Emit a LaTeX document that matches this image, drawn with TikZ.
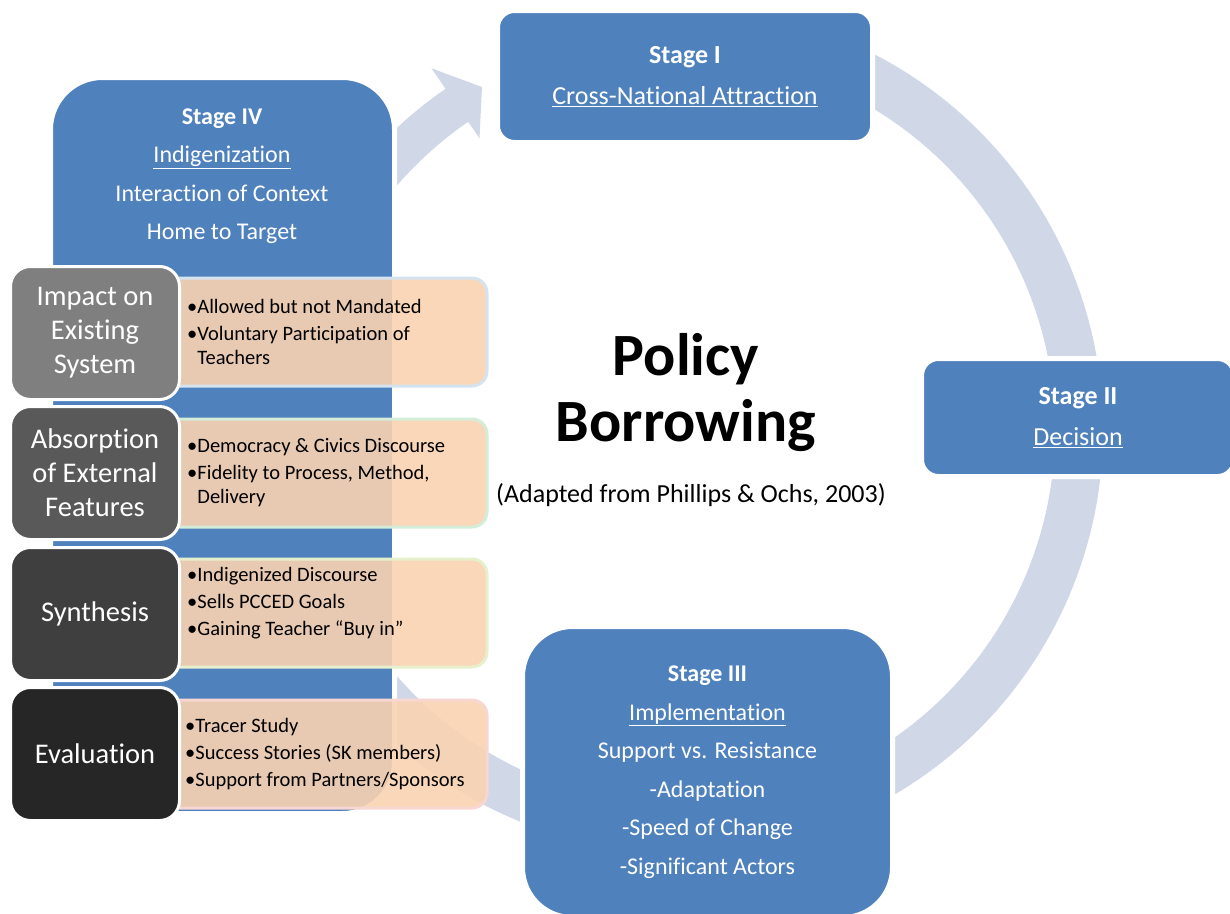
\documentclass[tikz,border=0pt]{standalone}
\usepackage{fontspec}
\setmainfont{Carlito}[Ligatures=CommonOff]

\definecolor{stageblue}{HTML}{4F81BD}
\definecolor{ringblue}{HTML}{D0D8E8}
\definecolor{peach}{HTML}{F9D3B1}
\definecolor{greyA}{HTML}{7F7F7F}
\definecolor{greyB}{HTML}{595959}
\definecolor{greyC}{HTML}{3F3F3F}
\definecolor{greyD}{HTML}{262626}
\definecolor{rimA}{HTML}{D5E3F0}
\definecolor{rimB}{HTML}{D3EDD8}
\definecolor{rimC}{HTML}{E6F0CC}
\definecolor{rimD}{HTML}{F8D7D3}

\newcommand{\stagetext}{\fontsize{24}{38.5}\selectfont}
\newcommand{\bigstagetext}{\fontsize{26}{41}\selectfont}
\newcommand{\sidetext}{\fontsize{28.5}{34}\selectfont}
\newcommand{\pointtext}{\fontsize{20.5}{24.5}\selectfont}

\begin{document}
\begin{tikzpicture}[x=1pt,y=-1pt,
    stage/.style={draw=white, line width=5pt, fill=stageblue, text=white,
        align=center, inner sep=0pt, font=\stagetext},
    side/.style={draw=white, line width=3pt, fill=#1, rounded corners=20pt,
        minimum width=169pt, minimum height=133pt, text=white, align=center,
        inner sep=0pt, font=\sidetext},
    notes/.style={draw=#1, line width=3pt, fill=peach, fill opacity=0.9,
        rounded corners=15pt, minimum width=322pt, minimum height=108pt},
    points/.style={anchor=west, align=left, inner sep=0pt, font=\pointtext},
    ring/.style={fill=ringblue}]
    \useasboundingbox (0,0) rectangle (1230,913);

    % the cycle arrows, all round one centre
    \begin{scope}[shift={(680,430)}]
        % I -> II
        \fill[ring] (-70:423) arc[start angle=-70, end angle=0, radius=423]
            -- (0:375) arc[start angle=0, end angle=-70, radius=375] -- cycle;
        % II -> III
        \fill[ring] (0:423) arc[start angle=0, end angle=65, radius=423]
            -- (65:375) arc[start angle=65, end angle=0, radius=375] -- cycle;
        % III -> IV
        \fill[ring] (105:423) arc[start angle=105, end angle=150, radius=423]
            -- (150:375) arc[start angle=150, end angle=105, radius=375] -- cycle;
        % IV -> I, the only head that shows
        \fill[ring] (-150:414) arc[start angle=-150, end angle=-124.5, radius=414]
            -- (-124.5:439) -- (-120:396) -- (-124.5:354)
            -- (-124.5:374) arc[start angle=-124.5, end angle=-150, radius=374] -- cycle;
    \end{scope}

    % the four stages
    \node[stage, font=\bigstagetext, rounded corners=17pt, minimum width=375pt, minimum height=132pt]
        (s1) at (685,76.5) {\textbf{Stage I}\\\underline{Cross-National Attraction}};
    \node[stage, font=\bigstagetext, rounded corners=17pt, minimum width=313pt, minimum height=118pt]
        (s2) at (1078,417.5) {\textbf{Stage II}\\\underline{Decision}};
    \node[stage, rounded corners=50pt, minimum width=370pt, minimum height=291pt]
        (s3) at (707.5,772) {\textbf{Stage III}\\\underline{Implementation}\\Support vs. Resistance\\
        -Adaptation\\-Speed of Change\\-Significant Actors};
    \node[stage, rounded corners=52pt, minimum width=344pt, minimum height=736pt]
        (s4) at (222.5,445.5) {};
    \node[align=center, text=white, font=\stagetext] (s4text) at (222,176)
        {\textbf{Stage IV}\\\underline{Indigenization}\\Interaction of Context\\Home to Target};

    % notes behind the side labels
    \node[notes=rimA] (n1) at (326,332) {};
    \node[notes=rimB] (n2) at (326,473) {};
    \node[notes=rimC] (n3) at (326,613) {};
    \node[notes=rimD] (n4) at (326,754) {};

    \node[side=greyA] (impact) at (95,333) {Impact on\\Existing\\System};
    \node[side=greyB] (absorb) at (95,473) {Absorption\\of External\\Features};
    \node[side=greyC] (synth) at (95,614) {Synthesis};
    \node[side=greyD] (eval) at (95,754) {Evaluation};

    \node[points] (p1) at (187,332) {•Allowed but not Mandated\\[2.5pt]•Voluntary Participation of\\\hphantom{•}Teachers};
    \node[points] (p2) at (187,472.5) {•Democracy \& Civics Discourse\\[2.5pt]•Fidelity to Process, Method,\\\hphantom{•}Delivery};
    \node[points] (p3) at (187,603) {•Indigenized Discourse\\[2.5pt]•Sells PCCED Goals\\[2.5pt]•Gaining Teacher “Buy in”};
    \node[points] (p4) at (185,754) {•Tracer Study\\[2.5pt]•Success Stories (SK members)\\[2.5pt]•Support from Partners/Sponsors};

    % title in the middle
    \node[align=center, font=\bfseries\fontsize{60}{66}\selectfont] (title) at (686,393) {Policy\\Borrowing};
    \node[font=\fontsize{26}{31}\selectfont] (source) at (691,495) {(Adapted from Phillips \& Ochs, 2003)};
\end{tikzpicture}
\end{document}
